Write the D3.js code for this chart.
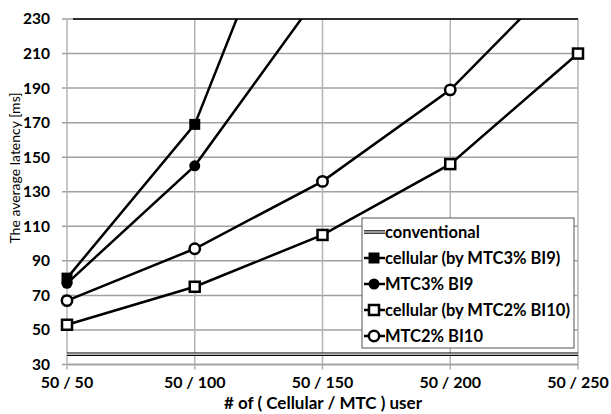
<!DOCTYPE html>
<html>
<head>
<meta charset="utf-8">
<script src="https://cdn.jsdelivr.net/npm/d3@7"></script>
<style>
body { margin: 0; background: #fff; }
text { font-family: Lato, "Liberation Sans", sans-serif; }
</style>
</head>
<body>
<div id="chart"></div>
<script>
// data
var categories = ["50 / 50", "50 / 100", "50 / 150", "50 / 200", "50 / 250"];
var yTicks = [30, 50, 70, 90, 110, 130, 150, 170, 190, 210, 230];

var conventional = [36, 36, 36, 36, 36];
var cellularBI9 = [80, 169, 355];        // last point off the chart
var mtc3BI9 = [77, 145, 247];            // last point off the chart
var cellularBI10 = [53, 75, 105, 146, 210];
var mtc2BI10 = [67, 97, 136, 189, 264];  // last point off the chart

var series = [
  {name: "conventional", values: conventional, marker: "double"},
  {name: "cellular (by MTC3% BI9)", values: cellularBI9, marker: "fsquare"},
  {name: "MTC3% BI9", values: mtc3BI9, marker: "fcircle"},
  {name: "cellular (by MTC2% BI10)", values: cellularBI10, marker: "osquare"},
  {name: "MTC2% BI10", values: mtc2BI10, marker: "ocircle"}
];

var width = 611, height = 414;
var margin = {top: 19, right: 33, bottom: 49.5, left: 67};

var svg = d3.select("#chart").append("svg")
  .attr("width", width)
  .attr("height", height);

var x = d3.scalePoint().domain(categories).range([margin.left, width - margin.right]);
var y = d3.scaleLinear().domain([30, 230]).range([height - margin.bottom, margin.top]);

svg.append("defs").append("clipPath").attr("id", "plot")
  .append("rect")
  .attr("x", margin.left - 10).attr("y", margin.top)
  .attr("width", width - margin.left - margin.right + 20)
  .attr("height", height - margin.top - margin.bottom);

// grid
svg.append("g").selectAll("line.h").data(yTicks).enter().append("line")
  .attr("x1", margin.left - 5).attr("x2", width - margin.right)
  .attr("y1", function(d){ return y(d); }).attr("y2", function(d){ return y(d); })
  .style("stroke", "#a0a0a0").style("stroke-width", 1.5);
svg.append("g").selectAll("line.v").data(categories).enter().append("line")
  .attr("x1", function(d){ return x(d); }).attr("x2", function(d){ return x(d); })
  .attr("y1", margin.top).attr("y2", height - margin.bottom + 5)
  .style("stroke", "#b4b4b4").style("stroke-width", 1.5);

// top border
svg.append("line")
  .attr("x1", margin.left + 6).attr("x2", width - margin.right)
  .attr("y1", margin.top).attr("y2", margin.top)
  .style("stroke", "#000").style("stroke-width", 1.5);

// y tick labels
svg.append("g").selectAll("text").data(yTicks).enter().append("text")
  .attr("x", 50).attr("y", function(d){ return y(d); })
  .attr("dy", "0.35em")
  .attr("text-anchor", "end")
  .style("font-size", "15.5px").style("font-weight", "bold")
  .text(function(d){ return d; });

// x tick labels
svg.append("g").selectAll("text").data(categories).enter().append("text")
  .attr("x", function(d){ return x(d); }).attr("y", 382)
  .attr("dy", "0.35em")
  .attr("text-anchor", "middle")
  .style("font-size", "16px").style("font-weight", "bold")
  .text(function(d){ return d; });

// axis titles
svg.append("text")
  .attr("transform", "translate(15,168) rotate(-90)")
  .attr("text-anchor", "middle").attr("dy", "0.35em")
  .style("font-size", "14px")
  .text("The average latency [ms]");
svg.append("text")
  .attr("x", 323).attr("y", 403)
  .attr("text-anchor", "middle").attr("dy", "0.35em")
  .style("font-size", "17px").style("font-weight", "bold")
  .text("# of ( Cellular / MTC ) user");

var line = d3.line()
  .x(function(d, i){ return x(categories[i]); })
  .y(function(d){ return y(d); });

var plot = svg.append("g").attr("clip-path", "url(#plot)");

function drawMarker(g, type, cx, cy) {
  if (type == "fsquare") {
    g.append("rect").attr("x", cx - 5.5).attr("y", cy - 5.5).attr("width", 11).attr("height", 11)
      .style("fill", "#000");
  } else if (type == "osquare") {
    g.append("rect").attr("x", cx - 5).attr("y", cy - 5).attr("width", 10).attr("height", 10)
      .style("fill", "#fff").style("stroke", "#000").style("stroke-width", 2.5);
  } else if (type == "fcircle") {
    g.append("circle").attr("cx", cx).attr("cy", cy).attr("r", 5.5).style("fill", "#000");
  } else if (type == "ocircle") {
    g.append("circle").attr("cx", cx).attr("cy", cy).attr("r", 5.2)
      .style("fill", "#fff").style("stroke", "#000").style("stroke-width", 2.5);
  }
}

series.forEach(function(s){
  if (s.marker == "double") {
    plot.append("path").datum(s.values).attr("d", line)
      .style("fill", "none").style("stroke", "#000").style("stroke-width", 3.5);
    plot.append("path").datum(s.values).attr("d", line)
      .style("fill", "none").style("stroke", "#fff").style("stroke-width", 1.2);
    return;
  }
  plot.append("path").datum(s.values).attr("d", line)
    .style("fill", "none").style("stroke", "#000").style("stroke-width", 2.5);
  s.values.forEach(function(v, i){
    drawMarker(plot, s.marker, x(categories[i]), y(v));
  });
});

// x axis base line
svg.append("line")
  .attr("x1", margin.left).attr("x2", width - margin.right)
  .attr("y1", y(30)).attr("y2", y(30))
  .style("stroke", "#a0a0a0").style("stroke-width", 1.5);

// legend
var lg = svg.append("g");
lg.append("rect")
  .attr("x", 362).attr("y", 218).attr("width", 212).attr("height", 130)
  .style("fill", "#fff").style("stroke", "#555").style("stroke-width", 1);
series.forEach(function(s, i){
  var ly = 232 + i * 26;
  if (s.marker == "double") {
    lg.append("line").attr("x1", 364).attr("x2", 385).attr("y1", ly).attr("y2", ly)
      .style("stroke", "#000").style("stroke-width", 3.5);
    lg.append("line").attr("x1", 364).attr("x2", 385).attr("y1", ly).attr("y2", ly)
      .style("stroke", "#fff").style("stroke-width", 1.2);
  } else {
    lg.append("line").attr("x1", 364).attr("x2", 385).attr("y1", ly).attr("y2", ly)
      .style("stroke", "#000").style("stroke-width", 2.5);
    drawMarker(lg, s.marker, 374, ly);
  }
  lg.append("text").attr("x", 385).attr("y", ly).attr("dy", "0.35em")
    .style("font-size", "16.5px").style("font-weight", "bold")
    .text(s.name);
});
</script>
</body>
</html>
